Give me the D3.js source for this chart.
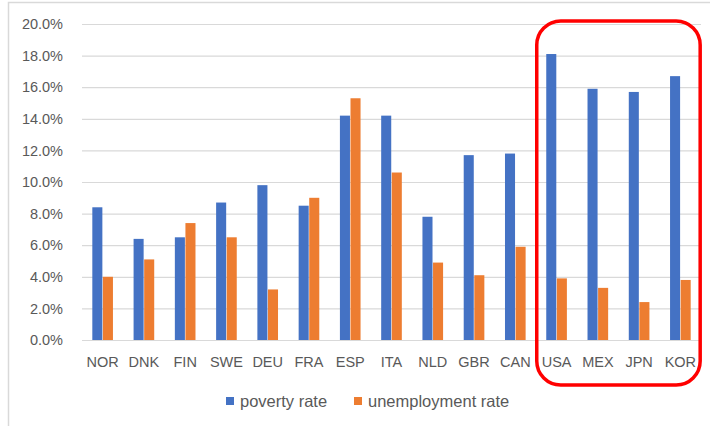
<!DOCTYPE html>
<html>
<head>
<meta charset="utf-8">
<script src="https://cdn.jsdelivr.net/npm/d3@7"></script>
<style>
  body { margin: 0; background: #fff; }
  svg { display: block; font-family: "Liberation Sans", Arial, sans-serif; }
</style>
</head>
<body>
<div id="chart"></div>
<script>
const countries = ["NOR", "DNK", "FIN", "SWE", "DEU", "FRA", "ESP", "ITA", "NLD", "GBR", "CAN", "USA", "MEX", "JPN", "KOR"];
const povertyRate = [8.4, 6.4, 6.5, 8.7, 9.8, 8.5, 14.2, 14.2, 7.8, 11.7, 11.8, 18.1, 15.9, 15.7, 16.7];
const unemploymentRate = [4.0, 5.1, 7.4, 6.5, 3.2, 9.0, 15.3, 10.6, 4.9, 4.1, 5.9, 3.9, 3.3, 2.4, 3.8];
const seriesNames = ["poverty rate", "unemployment rate"];
const colors = ["#4472C4", "#ED7D31"];
const yTicks = [0, 2, 4, 6, 8, 10, 12, 14, 16, 18, 20];
const highlighted = ["USA", "MEX", "JPN", "KOR"];

const width = 710;
const height = 426;
const plotLeft = 82, plotRight = 701, plotTop = 24, plotBottom = 340;

const svg = d3.select('#chart')
    .append('svg')
    .attr('width', width)
    .attr('height', height);

// chart frame
svg.append('path')
    .attr('d', `M8.5,${height} V2.5 H${width}`)
    .attr('fill', 'none')
    .attr('stroke', '#d9d9d9')
    .attr('stroke-width', 1.5);

// scales
const x = d3.scaleBand()
    .domain(countries)
    .range([plotLeft, plotRight])
    .paddingInner(0.5)
    .paddingOuter(0.25);

const xSub = d3.scaleBand()
    .domain(seriesNames)
    .range([0, x.bandwidth()])
    .paddingInner(0.05);

const y = d3.scaleLinear()
    .domain([0, 20])
    .range([plotBottom, plotTop]);

// gridlines + y labels
const yAxis = d3.axisLeft(y)
    .tickValues(yTicks)
    .tickSize(-(plotRight - plotLeft))
    .tickPadding(19)
    .tickFormat(d => d.toFixed(1) + '%');

const gy = svg.append('g')
    .attr('transform', `translate(${plotLeft},0)`)
    .call(yAxis);
gy.select('.domain').remove();
gy.selectAll('.tick line').attr('stroke', '#d9d9d9').attr('stroke-width', 1.2);
gy.selectAll('.tick text')
    .attr('fill', '#595959')
    .style('font-size', '14.5px');

// bars
const rows = countries.map((c, i) => ({ country: c, values: [povertyRate[i], unemploymentRate[i]] }));

const groups = svg.append('g')
    .selectAll('g')
    .data(rows)
    .enter()
    .append('g')
    .attr('transform', d => `translate(${x(d.country)},0)`);

groups.selectAll('rect')
    .data(d => d.values.map((v, k) => ({ series: seriesNames[k], value: v, k: k })))
    .enter()
    .append('rect')
    .attr('x', d => xSub(d.series))
    .attr('y', d => y(d.value))
    .attr('width', xSub.bandwidth())
    .attr('height', d => y(0) - y(d.value))
    .attr('fill', d => colors[d.k]);

// x labels
const xAxis = d3.axisBottom(x).tickSize(0).tickPadding(17);
const gx = svg.append('g')
    .attr('transform', `translate(0,${plotBottom})`)
    .call(xAxis);
gx.select('.domain').remove();
gx.selectAll('.tick text')
    .attr('fill', '#595959')
    .style('font-size', '14.5px');

// legend
const legendItems = [
    { name: seriesNames[0], color: colors[0], x: 226 },
    { name: seriesNames[1], color: colors[1], x: 354 }
];
const legend = svg.append('g').attr('transform', 'translate(0,401)');
legendItems.forEach(item => {
    legend.append('rect')
        .attr('x', item.x)
        .attr('y', -4)
        .attr('width', 8)
        .attr('height', 8)
        .attr('fill', item.color);
    legend.append('text')
        .attr('x', item.x + 14)
        .attr('y', 0)
        .attr('dy', '0.35em')
        .attr('fill', '#595959')
        .style('font-size', '16.5px')
        .text(item.name);
});

// red highlight box around the last four countries
const x0 = x(highlighted[0]) - 9.5;
const x1 = x(highlighted[highlighted.length - 1]) + x.bandwidth() + 9.5;
svg.append('rect')
    .attr('x', x0)
    .attr('y', 21)
    .attr('width', x1 - x0)
    .attr('height', 364)
    .attr('rx', 24)
    .attr('fill', 'none')
    .attr('stroke', '#ff0000')
    .attr('stroke-width', 3.5);
</script>
</body>
</html>
